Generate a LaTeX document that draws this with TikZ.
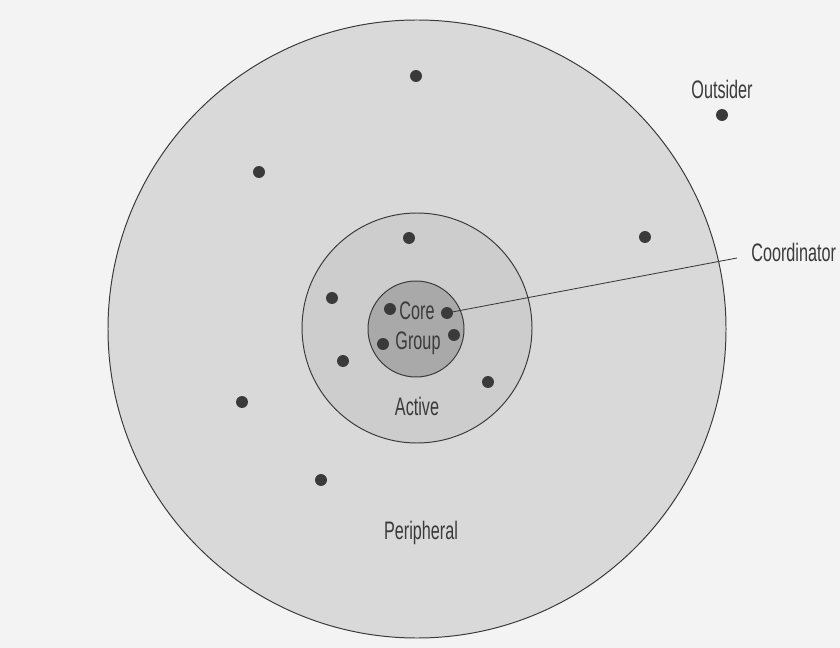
\documentclass[tikz,border=0pt]{standalone}
\usepackage{fontspec}
\newfontfamily\labelfont[FakeStretch=0.64]{Liberation Sans}
\usetikzlibrary{positioning}

\definecolor{paper}{HTML}{F3F3F3}
\definecolor{periphfill}{HTML}{D9D9D9}
\definecolor{activefill}{HTML}{CDCDCD}
\definecolor{corefill}{HTML}{A9A9A9}
\definecolor{inkgray}{HTML}{3A3A3A}

\begin{document}
\begin{tikzpicture}[
    x=0.025cm, y=-0.025cm, % pixel-like coordinates
    ring/.style={draw=inkgray, line width=0.7pt}, % Style for the circles
    member/.style={circle, fill=inkgray, inner sep=0pt, minimum size=8.5pt}, % Style for the people
    tag/.style={text=inkgray, font=\labelfont\fontsize{18}{20}\selectfont, inner sep=1pt} % Style for labels
]

    % Background
    \useasboundingbox[fill=paper] (0,0) rectangle (840,648);

    % Rings
    \draw[ring, fill=periphfill] (417,329) circle (309);
    \draw[ring, fill=activefill] (417,328) circle (115);
    \draw[ring, fill=corefill] (416,329) circle (48);

    % Peripheral members
    \node[member] (p1) at (416,76) {};
    \node[member] (p2) at (259,172) {};
    \node[member] (p3) at (645,237) {};
    \node[member] (p4) at (242,402) {};
    \node[member] (p5) at (321,480) {};

    % Active members
    \node[member] (a1) at (409,238) {};
    \node[member] (a2) at (332,298) {};
    \node[member] (a3) at (343,361) {};
    \node[member] (a4) at (488,382) {};

    % Core group members
    \node[member] (c1) at (390,309) {};
    \node[member] (cd) at (447,313) {}; % the coordinator
    \node[member] (c2) at (383,344) {};
    \node[member] (c3) at (454,335) {};

    % Outsider
    \node[member] (out) at (722,115) {};
    \node[tag, above=6pt of out] (outname) {Outsider};

    % Coordinator pointer
    \coordinate (cend) at (737,258);
    \node[tag, inner sep=0pt, right=10pt of cend, anchor=west, yshift=4pt] (coordlabel) {Coordinator};
    \draw[inkgray, line width=0.6pt] (cd.center) -- (cend);

    % Ring labels
    \node[tag] (corelabel) at (417,311) {Core};
    \node[tag] (grouplabel) at (418,343) {Group};
    \node[tag] (activelabel) at (417,406) {Active};
    \node[tag] (periphlabel) at (421,533) {Peripheral};

\end{tikzpicture}
\end{document}
